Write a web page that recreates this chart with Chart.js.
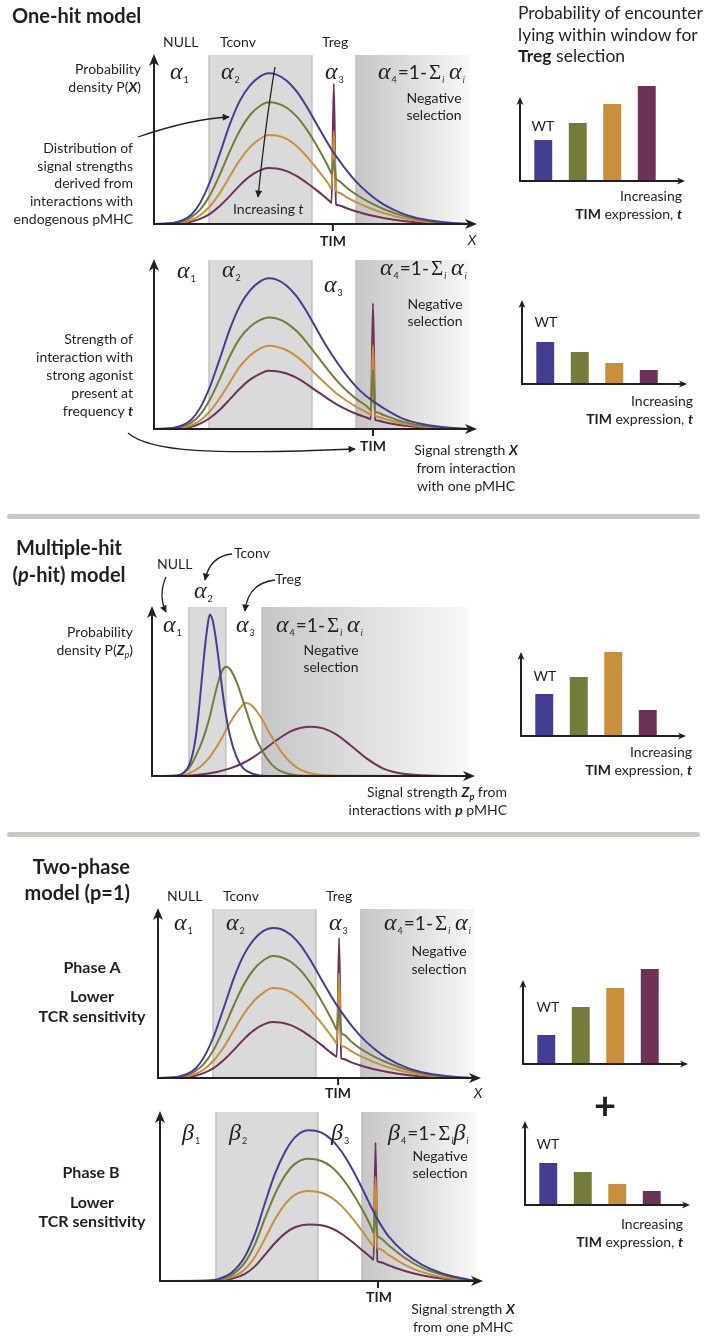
<!DOCTYPE html>
<html>
<head>
<meta charset="utf-8">
<script src="https://cdn.jsdelivr.net/npm/chart.js@4.4.1/dist/chart.umd.min.js"></script>
<style>
html, body { margin: 0; padding: 0; background: #fff; }
#stage { position: relative; width: 707px; height: 1340px; overflow: hidden; font-family: Lato, 'Open Sans', sans-serif; color: #231f20; }
#stage canvas { position: absolute; z-index: 1; }
.lbl { position: absolute; white-space: nowrap; z-index: 6; }
.lbl sub { font-size: 9px; line-height: 0; vertical-align: -3px; }
.gk { position: absolute; white-space: nowrap; z-index: 6; font-family: 'Liberation Serif', serif; font-style: italic; font-size: 24px; line-height: 28px; }
.gk sub { font-family: Lato, sans-serif; font-style: normal; font-size: 9px; line-height: 0; vertical-align: -4px; margin-left: 1px; }
.gk sub.i { font-style: italic; }
.gk .eq { font-family: Lato, sans-serif; font-style: normal; font-size: 19px; line-height: 0; margin-left: 1px; }
.gk .up { font-style: normal; font-size: 21px; line-height: 0; margin-left: 2px; }
.rule { position: absolute; left: 7px; width: 693px; height: 5px; border-radius: 3px; background: #c9c9c4; }
#notes { position: absolute; left: 0; top: 0; z-index: 5; }
</style>
</head>
<body>
<div id="stage">
  <div class="rule" style="top:514px"></div>
  <div class="rule" style="top:832px"></div>
  <svg id="notes" width="707" height="1340">
    <defs>
      <marker id="ah" viewBox="0 0 10 10" refX="9" refY="5" markerWidth="8" markerHeight="7" markerUnits="userSpaceOnUse" orient="auto">
        <path d="M0,0 L10,5 L0,10 z" fill="#231f20"/>
      </marker>
    </defs>
    <g fill="none" stroke="#231f20" stroke-width="1.3" marker-end="url(#ah)">
      <path d="M138,137 Q190,119 229,117"/>
      <path d="M275,67 Q266,120 258,197"/>
      <path d="M128,433 C150,452 210,455 355,449"/>
      <path d="M166,577 Q158,595 166,612"/>
      <path d="M232,554 Q210,556 205,580"/>
      <path d="M275,580 Q248,583 245,611"/>
    </g>
  </svg>
</div>
<script>
// ---- data (x: signal strength, a.u. 0-100; y: probability density, a.u.) ----
const tLevels = ['WT', 't1', 't2', 't3'];

// one-hit model, endogenous pMHC only
const oneHitX      = [0, 6, 9, 11.8, 14.6, 17.7, 20.9, 24.1, 27.2, 30.4, 33.5, 36.2, 38.8, 42, 45.2, 48.3, 51.5, 54.7, 55.6, 56.2, 56.9, 57.6, 58.3, 61, 64.1, 68.4, 72.6, 78.9, 85.2, 93.7, 100];
const oneHitBlue   = [0, 0.6, 2.2, 5.5, 12.5, 25, 42, 59.5, 73, 82, 87.2, 89.2, 88.4, 84.8, 78.3, 69.5, 59, 48.7, 45.9, 44.1, 42.1, 40.2, 38.4, 31.6, 24.8, 17.3, 11.6, 6, 2.8, 0.7, 0];
const oneHitGreen  = [0, 0.4, 1.6, 4, 8.5, 17, 29.5, 43.5, 55.5, 64.5, 69.8, 72, 71.5, 68.8, 63.5, 56, 46.5, 35.5, 32, 29.5, 38, 27, 25.8, 21.5, 17.3, 12.6, 8.9, 4.8, 2.2, 0.5, 0];
const oneHitOrange = [0, 0.2, 0.9, 2.4, 5.2, 10.5, 18.5, 28.5, 38, 45.5, 50.3, 52.7, 52.4, 50.3, 46, 40, 32.8, 25, 22.5, 20.7, 55, 19.5, 18.7, 15.8, 12.8, 9.3, 6.5, 3.4, 1.5, 0.3, 0];
const oneHitPurple = [0, 0.1, 0.5, 1.3, 3, 6, 10.8, 16.8, 23, 28.3, 31.7, 33.1, 32.9, 31.3, 28.3, 24.4, 19.9, 15, 13.5, 12.4, 83, 11.6, 11.1, 9.3, 7.4, 5.2, 3.6, 1.8, 0.8, 0.2, 0];
const oneHitWindows = [17.4, 50.0, 63.9];
const oneHitTim = 56.6;

// one-hit model, strong agonist at frequency t
const agonistX      = [0, 6, 9, 11.8, 14.6, 17.7, 20.9, 24.1, 27.2, 30.4, 33.5, 36.2, 38.8, 42, 45.2, 48.3, 51.5, 54.7, 57.8, 61, 64.1, 67.2, 68.0, 68.6, 69.3, 70.0, 70.7, 72.6, 78.9, 85.2, 93.7, 100];
const agonistBlue   = [0, 0.6, 2.2, 5.5, 12.5, 25, 42, 59.5, 73, 82, 87.2, 89.2, 88.4, 84.8, 78.3, 69.5, 59, 48.7, 39.8, 31.6, 24.8, 19.4, 18.3, 17.5, 16.5, 15.6, 14.7, 12.4, 6, 2.8, 0.7, 0];
const agonistGreen  = [0, 0.4, 1.5, 3.7, 8.5, 17.5, 30, 43.5, 53.8, 60.5, 64.4, 66, 65.4, 62.7, 57.8, 51.3, 43.5, 35.8, 28.8, 22.6, 17.7, 13.6, 12.2, 11.2, 35, 10.3, 9.7, 8.3, 4.2, 1.9, 0.4, 0];
const agonistOrange = [0, 0.2, 0.8, 2.2, 5, 10.5, 18.5, 28, 37, 43.5, 47.6, 49.3, 48.7, 46.6, 42.8, 37.8, 31.8, 26.2, 21, 16.7, 13, 10, 9.1, 8.4, 49.7, 7.8, 7.3, 6.2, 3.1, 1.4, 0.3, 0];
const agonistPurple = [0, 0.1, 0.5, 1.3, 3.2, 6.5, 11.5, 17.8, 24, 29.2, 32.6, 34.5, 34.2, 32.8, 30.2, 26.6, 22.4, 18.3, 14.6, 11.5, 8.9, 6.8, 6.2, 5.7, 74.4, 5.3, 5, 4.2, 2.1, 0.9, 0.2, 0];
const agonistWindows = [17.4, 50.0, 63.9];
const agonistTim = 69.3;

// multiple-hit model
const multiBlueX   = [0, 8, 9.9, 12.0, 13.6, 14.7, 15.7, 16.6, 17.4, 18.3, 19.2, 20.1, 21.0, 22.0, 23.1, 24.7, 26.8, 28.9, 32.1, 36.3, 100];
const multiBlueY   = [0, 0.3, 1.8, 7.5, 20, 36.5, 56, 73.5, 86.5, 95.5, 92, 82.5, 70, 54.5, 39.5, 23.5, 11, 4.5, 1.2, 0, 0];
const multiGreenX  = [0, 8, 9.9, 12.0, 15.2, 16.8, 18.4, 19.4, 20.5, 21.5, 22.6, 23.6, 24.7, 26.8, 28.9, 31.0, 33.1, 36.3, 39.4, 43.7, 47.9, 100];
const multiGreenY  = [0, 0.2, 1.6, 5.5, 17.4, 25.5, 36, 44, 52.5, 59, 63.5, 64.7, 63.2, 55.5, 44, 32, 21.5, 10.5, 4.3, 1, 0.1, 0];
const multiOrangeX = [0, 8, 10, 12.6, 15.2, 18.4, 21.5, 24.7, 27.8, 29.6, 31.4, 34.2, 37.3, 41.5, 45.8, 50.0, 54.2, 58.4, 100];
const multiOrangeY = [0, 0.1, 0.6, 2.3, 5.3, 11.5, 20.5, 31.5, 40, 43.4, 42, 35.5, 25, 12.8, 5, 1.7, 0.4, 0, 0];
const multiPurpleX = [0, 11, 16, 20.5, 24.7, 28.9, 32, 35.2, 38.4, 41.5, 44.2, 46.8, 50.5, 54.2, 58.4, 62.6, 67.9, 73.2, 79.5, 89, 100];
const multiPurpleY = [0, 0.2, 1, 2.4, 4.5, 7.7, 11, 15.2, 19.8, 23.8, 26.7, 28.4, 29.2, 28.2, 24.5, 18.5, 10.4, 4.4, 1.3, 0.2, 0];
const multiWindows = [11.7, 23.4, 34.8];

// two-phase model, phase A
const phaseAX      = [0, 6, 9, 11.8, 14.6, 17.7, 20.9, 24.1, 27.2, 30.4, 33.5, 36.2, 38.8, 42, 45.2, 48.3, 51.5, 54.7, 55.9, 56.6, 57.3, 58.0, 58.7, 61, 64.1, 68.4, 72.6, 78.9, 85.2, 93.7, 100];
const phaseABlue   = [0, 0.6, 2.2, 5.5, 12.5, 25, 42, 59.5, 73, 82, 87.2, 88.8, 88.2, 84.8, 78.3, 69.5, 59, 48.7, 45.1, 43.0, 41.0, 39.1, 37.3, 31.6, 24.8, 17.3, 11.6, 6, 2.8, 0.7, 0];
const phaseAGreen  = [0, 0.4, 1.6, 4, 8.5, 17, 29.5, 43.5, 55.5, 64.5, 69.8, 72.2, 71.6, 68.8, 63.5, 56, 46.5, 35.5, 31, 28.4, 42, 26.8, 25.7, 21.8, 17.4, 12.7, 9, 4.8, 2.2, 0.5, 0];
const phaseAOrange = [0, 0.2, 0.9, 2.4, 5.2, 10.5, 18.5, 28.5, 38, 45.7, 50.7, 53.3, 53, 50.8, 46.3, 40.2, 33, 25.2, 22.2, 20.5, 62, 19.4, 18.7, 16, 12.9, 9.4, 6.5, 3.4, 1.5, 0.3, 0];
const phaseAPurple = [0, 0.1, 0.5, 1.3, 3, 6, 10.8, 16.8, 23, 28.3, 31.7, 33.1, 32.9, 31.3, 28.3, 24.4, 19.9, 15, 13.4, 12.6, 82.8, 11.8, 11.2, 9.4, 7.4, 5.2, 3.6, 1.8, 0.8, 0.2, 0];
const phaseAWindows = [17.4, 50.0, 64.2];
const phaseATim = 57.0;

// two-phase model, phase B
const phaseBX      = [0, 14, 18.5, 22.7, 26.9, 30.1, 33.2, 36.4, 39.6, 42.7, 46.9, 51.1, 54.3, 57.5, 60.6, 63.8, 66.3, 67.0, 67.6, 68.2, 68.8, 69.4, 72.3, 77.5, 82.8, 89.1, 95.5, 100];
const phaseBBlue   = [0, 0.2, 1.2, 5, 14.5, 28, 46, 63.5, 76.5, 85, 89.2, 87.8, 83.6, 76.5, 67, 55.5, 45.8, 43.2, 41, 38.8, 36.7, 34.7, 26.5, 16.5, 9.7, 4.6, 1.6, 0];
const phaseBGreen  = [0, 0.1, 0.8, 3.6, 11, 22, 37, 51.5, 62.5, 69.3, 72.4, 71, 67.5, 61.2, 53, 43, 34, 31, 28.5, 42, 27, 25.8, 21.2, 13.6, 7.9, 3.8, 1.2, 0];
const phaseBOrange = [0, 0.05, 0.5, 2.3, 7, 14.5, 25, 36.5, 45.5, 51, 53.3, 52.2, 49.3, 44.3, 37.8, 30, 23.5, 21.8, 20.5, 61.5, 19.6, 18.9, 15.5, 9.6, 5.4, 2.4, 0.7, 0];
const phaseBPurple = [0, 0, 0.3, 1.3, 4.2, 8.8, 15.5, 22.5, 28.2, 31.8, 33.5, 33, 31.2, 27.8, 23.5, 18.5, 14.6, 13.5, 12.6, 82, 11.8, 11.3, 9.3, 5.9, 3.4, 1.5, 0.4, 0];
const phaseBWindows = [17.7, 50.0, 63.9];
const phaseBTim = 69.0;

// bar heights (probability of encounter in window, a.u.)
const tregOneHit   = [0.41, 0.58, 0.77, 0.95];
const tregAgonist  = [0.42, 0.32, 0.21, 0.14];
const tregMultiHit = [0.42, 0.59, 0.84, 0.26];
const tregPhaseA   = [0.29, 0.57, 0.76, 0.95];
const tregPhaseB   = [0.42, 0.33, 0.21, 0.14];

// ---- drawing ----
const ink = '#231f20';
const seriesColors = ['#433e91', '#747b3b', '#c88f3c', '#6c3357'];
const stage = document.getElementById('stage');

function arrowAxes(ctx, ox, oy, top, right, hl, hw) {
  ctx.save();
  ctx.strokeStyle = ink;
  ctx.fillStyle = ink;
  ctx.lineWidth = 2;
  ctx.beginPath();
  ctx.moveTo(ox, oy + 1);
  ctx.lineTo(ox, top + hl * 0.6);
  ctx.moveTo(ox - 1, oy);
  ctx.lineTo(right - hl * 0.6, oy);
  ctx.stroke();
  ctx.beginPath();
  ctx.moveTo(ox, top);
  ctx.lineTo(ox - hw, top + hl);
  ctx.lineTo(ox, top + hl * 0.72);
  ctx.lineTo(ox + hw, top + hl);
  ctx.closePath();
  ctx.fill();
  ctx.beginPath();
  ctx.moveTo(right, oy);
  ctx.lineTo(right - hl, oy - hw);
  ctx.lineTo(right - hl * 0.72, oy);
  ctx.lineTo(right - hl, oy + hw);
  ctx.closePath();
  ctx.fill();
  ctx.restore();
}

const panelDecor = {
  id: 'panelDecor',
  beforeDatasetsDraw(chart, args, opts) {
    if (opts.kind !== 'line') return;
    const { ctx, chartArea: a, scales: { x } } = chart;
    const [w1, w2, w3] = opts.windows.map(v => x.getPixelForValue(v));
    ctx.save();
    ctx.fillStyle = '#dadada';
    ctx.fillRect(w1, a.top, w2 - w1, a.bottom - a.top);
    const g = ctx.createLinearGradient(w3, 0, a.right, 0);
    g.addColorStop(0, '#c6c6c6');
    g.addColorStop(1, '#f8f8f8');
    ctx.fillStyle = g;
    ctx.fillRect(w3, a.top, a.right - w3, a.bottom - a.top);
    ctx.strokeStyle = '#b8b8b8';
    ctx.lineWidth = 1.2;
    ctx.beginPath();
    [w1, w2, w3].forEach(p => { ctx.moveTo(p, a.top); ctx.lineTo(p, a.bottom); });
    ctx.stroke();
    ctx.restore();
  },
  afterDatasetsDraw(chart, args, opts) {
    const { ctx, chartArea: a, scales: { x } } = chart;
    if (opts.kind === 'line') {
      arrowAxes(ctx, a.left, a.bottom, a.top - 1, a.right + 7, 12, 5);
      if (opts.tim != null) {
        ctx.fillStyle = ink;
        ctx.fillRect(x.getPixelForValue(opts.tim) - 1, a.bottom, 2, 7);
      }
    } else {
      arrowAxes(ctx, a.left - 6, a.bottom, a.bottom - 84, a.right + 21, 8, 3.5);
    }
  }
};

function makeCanvas(left, top, w, h) {
  const cv = document.createElement('canvas');
  cv.width = w;
  cv.height = h;
  cv.style.left = left + 'px';
  cv.style.top = top + 'px';
  stage.appendChild(cv);
  return cv;
}

function pts(xs, ys) {
  return xs.map((v, i) => ({ x: v, y: ys[i] }));
}

// left/top = corner of the plotting area in the page
function linePanel(left, top, series, windows, tim) {
  const cv = makeCanvas(left - 14, top - 14, 354, 201);
  new Chart(cv, {
    type: 'line',
    data: {
      datasets: series.map((s, i) => ({
        data: pts(s[0], s[1]),
        borderColor: seriesColors[i],
        borderWidth: 2,
        pointRadius: 0,
        fill: false,
        cubicInterpolationMode: 'monotone'
      }))
    },
    options: {
      responsive: false,
      animation: false,
      events: [],
      layout: { padding: { left: 14, top: 14, right: 24, bottom: 18 } },
      scales: {
        x: { type: 'linear', min: 0, max: 100, display: false },
        y: { min: 0, max: 100, display: false }
      },
      plugins: {
        legend: { display: false },
        tooltip: { enabled: false },
        panelDecor: { kind: 'line', windows: windows, tim: tim }
      }
    },
    plugins: [panelDecor]
  });
}

// axisX/baseY = where the two axes meet
function barPanel(axisX, baseY, values) {
  const cv = makeCanvas(axisX - 10, baseY - 115, 190, 125);
  new Chart(cv, {
    type: 'bar',
    data: {
      labels: tLevels,
      datasets: [{
        data: values,
        backgroundColor: seriesColors,
        borderWidth: 0,
        barPercentage: 0.52,
        categoryPercentage: 1
      }]
    },
    options: {
      responsive: false,
      animation: false,
      events: [],
      layout: { padding: { left: 16, top: 10, right: 36, bottom: 10 } },
      scales: {
        x: { display: false },
        y: { min: 0, max: 1.05, display: false }
      },
      plugins: {
        legend: { display: false },
        tooltip: { enabled: false },
        panelDecor: { kind: 'bar' }
      }
    },
    plugins: [panelDecor]
  });
}

linePanel(154, 55, [[oneHitX, oneHitBlue], [oneHitX, oneHitGreen], [oneHitX, oneHitOrange], [oneHitX, oneHitPurple]], oneHitWindows, oneHitTim);
linePanel(154, 260, [[agonistX, agonistBlue], [agonistX, agonistGreen], [agonistX, agonistOrange], [agonistX, agonistPurple]], agonistWindows, agonistTim);
linePanel(152, 607, [[multiBlueX, multiBlueY], [multiGreenX, multiGreenY], [multiOrangeX, multiOrangeY], [multiPurpleX, multiPurpleY]], multiWindows, null);
linePanel(158, 909, [[phaseAX, phaseABlue], [phaseAX, phaseAGreen], [phaseAX, phaseAOrange], [phaseAX, phaseAPurple]], phaseAWindows, phaseATim);
linePanel(160, 1112, [[phaseBX, phaseBBlue], [phaseBX, phaseBGreen], [phaseBX, phaseBOrange], [phaseBX, phaseBPurple]], phaseBWindows, phaseBTim);

barPanel(520, 181, tregOneHit);
barPanel(522, 384, tregAgonist);
barPanel(521, 736, tregMultiHit);
barPanel(523, 1064, tregPhaseA);
barPanel(525, 1205, tregPhaseB);

// ---- text ----
function L(x, cy, html, o) {
  o = o || {};
  const size = o.size || 14;
  const d = document.createElement('div');
  d.className = 'lbl';
  d.innerHTML = html;
  d.style.fontSize = size + 'px';
  d.style.lineHeight = (size * 1.2) + 'px';
  d.style.left = x + 'px';
  d.style.top = (cy - size * 0.657) + 'px';
  if (o.align === 'c') d.style.transform = 'translateX(-50%)';
  if (o.align === 'r') d.style.transform = 'translateX(-100%)';
  if (o.bold) d.style.fontWeight = 'bold';
  stage.appendChild(d);
}
function G(x, cy, html) {
  const d = document.createElement('div');
  d.className = 'gk';
  d.innerHTML = html;
  d.style.left = x + 'px';
  d.style.top = (cy - 16.6) + 'px';
  stage.appendChild(d);
}
const a = n => `α<sub>${n}</sub>`;
const b = n => `β<sub>${n}</sub>`;
const a4 = `α<sub>4</sub><span class="eq">=1-</span><span class="up">Σ</span><sub class="i">i</sub>&thinsp;α<sub class="i">i</sub>`;
const b4 = `β<sub>4</sub><span class="eq">=1-</span><span class="up">Σ</span><sub class="i">i</sub>β<sub class="i">i</sub>`;
const c = { align: 'c' }, r = { align: 'r' };
const tim = '<b>TIM</b> expression, <b><i>t</i></b>';

// one-hit, endogenous
L(12, 16, 'One-hit model', { size: 20, bold: true });
L(163, 43, 'NULL'); L(220, 43, 'Tconv'); L(322, 43, 'Treg');
L(141, 70, 'Probability', r); L(141, 88, 'density P(<b><i>X</i></b>)', r);
G(170, 74, a(1)); G(221, 74, a(2)); G(325, 74, a(3)); G(378, 74, a4);
L(434, 99, 'Negative', c); L(434, 116, 'selection', c);
['Distribution of', 'signal strengths', 'derived from', 'interactions with', 'endogenous pMHC']
  .forEach((t, i) => L(133, 149 + i * 17.8, t, r));
L(233, 210, 'Increasing <i>t</i>');
L(333, 242, '<b>TIM</b>', c); L(472, 241, '<i>X</i>', c);

// one-hit, agonist
G(177, 273, a(1)); G(222, 272, a(2)); G(324, 287, a(3)); G(380, 270, a4);
L(435, 305, 'Negative', c); L(435, 322, 'selection', c);
['Strength of', 'interaction with', 'strong agonist', 'present at', 'frequency <b><i>t</i></b>']
  .forEach((t, i) => L(133, 340 + i * 18, t, r));
L(373, 447, '<b>TIM</b>', c);
L(466, 451, 'Signal strength <b><i>X</i></b>', c); L(466, 469, 'from interaction', c); L(466, 487, 'with one pMHC', c);

// bars, one-hit
L(518, 13, 'Probability of encounter', { size: 17.5 });
L(518, 35, 'lying within window for', { size: 17.5 });
L(518, 56, '<b>Treg</b> selection', { size: 17.5 });
L(543, 127, 'WT', c);
L(682, 197, 'Increasing', r); L(682, 215, tim, r);
L(546, 323, 'WT', c);
L(693, 402, 'Increasing', r); L(693, 420, tim, r);

// multiple-hit
L(69, 548, 'Multiple-hit', { size: 20, bold: true, align: 'c' });
L(69, 575, '(<i>p</i>-hit) model', { size: 20, bold: true, align: 'c' });
L(157, 565, 'NULL'); L(234, 554, 'Tconv'); L(275, 580, 'Treg');
G(194, 593, a(2)); G(163, 627, a(1)); G(236, 627, a(3)); G(276, 627, a4);
L(331, 651, 'Negative', c); L(331, 668, 'selection', c);
L(133, 633, 'Probability', r); L(133, 651, 'density P(<b><i>Z</i></b><sub><i>p</i></sub>)', r);
L(507, 793, 'Signal strength <b><i>Z</i></b><sub><b><i>p</i></b></sub> from', r);
L(507, 811, 'interactions with <b><i>p</i></b> pMHC', r);
L(545, 677, 'WT', c);
L(692, 753, 'Increasing', r); L(692, 771, tim, r);

// two-phase
L(130, 867, 'Two-phase', { size: 20, bold: true, align: 'r' });
L(130, 893, 'model (p=1)', { size: 20, bold: true, align: 'r' });
L(167, 897, 'NULL'); L(223, 897, 'Tconv'); L(326, 897, 'Treg');
G(174, 925, a(1)); G(226, 925, a(2)); G(329, 925, a(3)); G(384, 925, a4);
L(439, 952, 'Negative', c); L(439, 970, 'selection', c);
L(92, 968, 'Phase A', { size: 16, bold: true, align: 'c' });
L(92, 997, 'Lower', { size: 16, bold: true, align: 'c' });
L(92, 1017, 'TCR sensitivity', { size: 16, bold: true, align: 'c' });
L(338, 1094, '<b>TIM</b>', c); L(478, 1094, '<i>X</i>', c);
L(548, 1008, 'WT', c);
L(605, 1107, '+', { size: 38, bold: true, align: 'c' });

G(182, 1135, b(1)); G(229, 1135, b(2)); G(331, 1135, b(3)); G(388, 1135, b4);
L(440, 1157, 'Negative', c); L(440, 1174, 'selection', c);
L(91, 1173, 'Phase B', { size: 16, bold: true, align: 'c' });
L(92, 1203, 'Lower', { size: 16, bold: true, align: 'c' });
L(92, 1222, 'TCR sensitivity', { size: 16, bold: true, align: 'c' });
L(379, 1298, '<b>TIM</b>', c);
L(463, 1310, 'Signal strength <b><i>X</i></b>', c); L(463, 1328, 'from one pMHC', c);
L(548, 1145, 'WT', c);
L(683, 1225, 'Increasing', r); L(683, 1243, tim, r);
</script>
</body>
</html>
